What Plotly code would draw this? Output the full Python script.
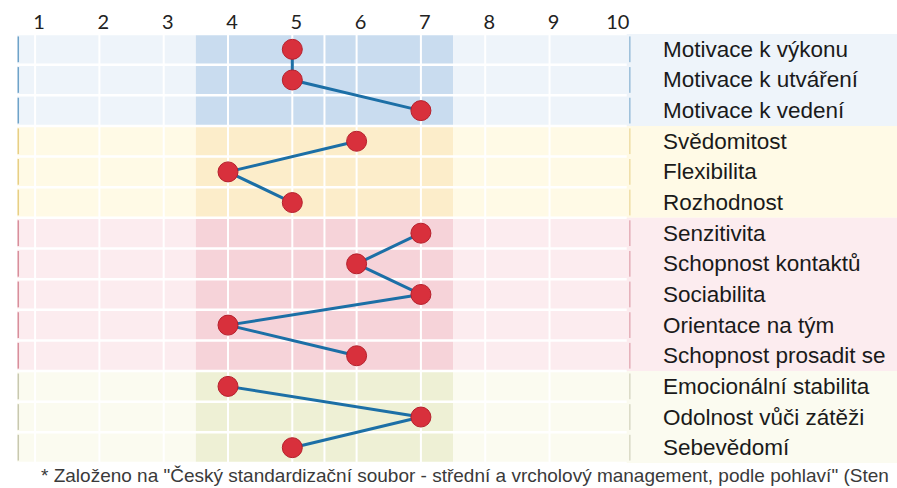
import plotly.graph_objects as go

# ---- data ----
categories = [
    "Motivace k výkonu", "Motivace k utváření", "Motivace k vedení",
    "Svědomitost", "Flexibilita", "Rozhodnost",
    "Senzitivita", "Schopnost kontaktů", "Sociabilita", "Orientace na tým", "Schopnost prosadit se",
    "Emocionální stabilita", "Odolnost vůči zátěži", "Sebevědomí",
]
scores = [5, 5, 7, 6, 4, 5, 7, 6, 7, 4, 6, 4, 7, 5]
group_sizes = [3, 3, 5, 3]
tick_values = [1, 2, 3, 4, 5, 6, 7, 8, 9, 10]
tick_labels = ["1", "2", "3", "4", "5", "6", "7", "8", "9", "10"]
footnote = '* Založeno na "Český standardizační soubor - střední a vrcholový management, podle pohlaví" (Sten'

# ---- styles ----
strong_cols = ["#c9dcef", "#fcedca", "#f6d3d9", "#eef0d5"]
light_cols = ["#eef4fa", "#fffae6", "#fcecef", "#fbfbf0"]
edge_cols = ["#6fa3c9", "#e7cf86", "#d88f9c", "#c8c8b0"]
X0, X1 = 0.7185, 14.404
SEP = 10.25
LABEL_X = 10.74

fig = go.Figure()
shapes = []

start = 0
for g, n in enumerate(group_sizes):
    y0, y1 = start - 0.5, start + n - 0.5
    shapes.append(dict(type="rect", xref="x", yref="y", x0=X0, x1=3.5, y0=y0, y1=y1,
                       fillcolor=light_cols[g], line=dict(width=0), layer="below"))
    shapes.append(dict(type="rect", xref="x", yref="y", x0=3.5, x1=7.5, y0=y0, y1=y1,
                       fillcolor=strong_cols[g], line=dict(width=0), layer="below"))
    shapes.append(dict(type="rect", xref="x", yref="y", x0=7.5, x1=X1, y0=y0, y1=y1,
                       fillcolor=light_cols[g], line=dict(width=0), layer="below"))
    for r in range(start, start + n):
        shapes.append(dict(type="line", xref="x", yref="y", x0=X0 + 0.02, x1=X0 + 0.02,
                           y0=r - 0.42, y1=r + 0.42, line=dict(color=edge_cols[g], width=1.5),
                           layer="below"))
        shapes.append(dict(type="line", xref="x", yref="y", x0=SEP, x1=SEP,
                           y0=r - 0.42, y1=r + 0.42, line=dict(color=edge_cols[g], width=1),
                           layer="below"))
    start += n

for v in [1, 2, 3, 4, 5, 5.5, 6, 7, 8, 9]:
    shapes.append(dict(type="line", xref="x", yref="y", x0=v, x1=v, y0=-0.5, y1=len(categories) - 0.5,
                       line=dict(color="white", width=2), layer="below"))
for r in range(len(categories) + 1):
    shapes.append(dict(type="line", xref="x", yref="y", x0=X0, x1=SEP - 0.05, y0=r - 0.5, y1=r - 0.5,
                       line=dict(color="white", width=2.5), layer="below"))

xs, ys = [], []
start = 0
for n in group_sizes:
    for r in range(start, start + n):
        xs.append(scores[r]); ys.append(r)
    xs.append(None); ys.append(None)
    start += n

fig.add_trace(go.Scatter(x=xs, y=ys, mode="lines", line=dict(color="#1c6fa6", width=3),
                         hoverinfo="skip", showlegend=False))
fig.add_trace(go.Scatter(x=scores, y=list(range(len(scores))), mode="markers",
                         marker=dict(size=20, color="#d8303c", line=dict(color="#b5202c", width=1)),
                         showlegend=False))

annotations = []
for i, c in enumerate(categories):
    annotations.append(dict(x=LABEL_X, y=i, xref="x", yref="y", text=c, showarrow=False,
                            xanchor="left", yanchor="middle",
                            font=dict(family="Liberation Sans, Arial", size=22.5, color="#1a1a1a")))
annotations.append(dict(x=0.025, y=-0.03, xref="paper", yref="paper", text=footnote, showarrow=False,
                        xanchor="left", yanchor="middle",
                        font=dict(family="Liberation Sans, Arial", size=19, color="#3a3a3a")))

fig.update_layout(
    width=897, height=488,
    margin=dict(l=17, r=0, t=34, b=25, autoexpand=False),
    paper_bgcolor="white", plot_bgcolor="white",
    shapes=shapes, annotations=annotations,
    xaxis=dict(range=[X0, X1], side="top", tickvals=tick_values, ticktext=tick_labels,
               showgrid=False, zeroline=False, showline=False, ticks="", automargin=False,
               ticklabelshift=4,
               tickfont=dict(family="Lato, Open Sans", size=20, color="#222222")),
    yaxis=dict(range=[len(categories) - 0.5, -0.5], showgrid=False, zeroline=False,
               showticklabels=False, showline=False, automargin=False),
)

fig.write_html("out.html", config={"displayModeBar": False},
               post_script="document.body.style.margin='0';document.body.style.overflow='hidden';")
